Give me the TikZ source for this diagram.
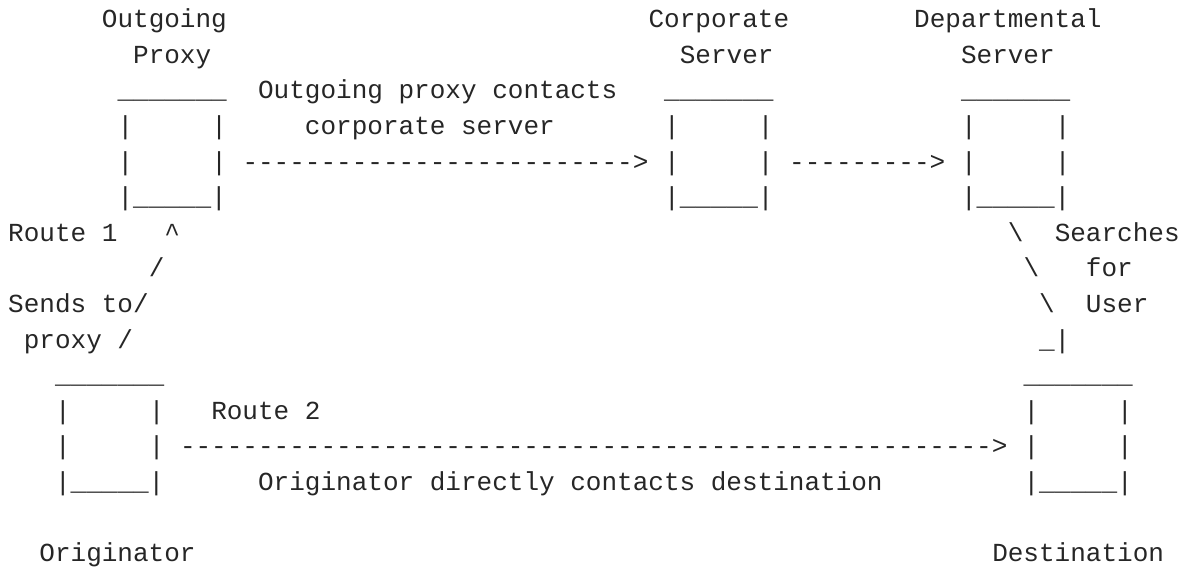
\documentclass[tikz,border=0pt]{standalone}
\usepackage{fontspec}
\setmonofont{Liberation Mono}
\ExplSyntaxOn
\newcommand\dashrun[1]{\prg_replicate:nn{#1}{-}}
\ExplSyntaxOff
\tikzset{
  txt/.style={anchor=base west, inner sep=0pt, text=black!85,
    font=\ttfamily\fontsize{13.01}{17.8}\selectfont},
}
\begin{document}
\begin{tikzpicture}[x=7.81pt, y=-17.8pt]
  \useasboundingbox (-3.9pt,-3.95pt) rectangle (587.1pt,-287.45pt);
  % caixas feitas com caracteres (coluna, linha)
  \foreach \name/\c/\r in {proxy/7/3, corp/42/3, dept/61/3, orig/3/11, dest/65/11} {
    \node at (\c,\r) (\name-top) [txt] {\_\_\_\_\_\_\_};
    \node at (\c,\r+1) (\name-l1) [txt] {|};
    \node at (\c+6,\r+1) (\name-r1) [txt] {|};
    \node at (\c,\r+2) (\name-l2) [txt] {|};
    \node at (\c+6,\r+2) (\name-r2) [txt] {|};
    \node at (\c,\r+3) (\name-bot) [txt] {|\_\_\_\_\_|};
  }
  % nomes das caixas
  \node at (6,1) (proxyname) [txt] {Outgoing};
  \node at (8,2) (proxyname2) [txt] {Proxy};
  \node at (41,1) (corpname) [txt] {Corporate};
  \node at (43,2) (corpname2) [txt] {Server};
  \node at (58,1) (deptname) [txt] {Departmental};
  \node at (61,2) (deptname2) [txt] {Server};
  \node at (2,16) (origname) [txt] {Originator};
  \node at (63,16) (destname) [txt] {Destination};
  % rota 1
  \node at (16,3) (r1label) [txt] {Outgoing proxy contacts};
  \node at (19,4) (r1label2) [txt] {corporate server};
  \node at (15,5) (proxycorp) [txt] {\dashrun{25}>};
  \node at (50,5) (corpdept) [txt] {\dashrun{9}>};
  \node at (0,7) (route1) [txt] {Route 1};
  \node at (10,7) (up1) [txt] {\textasciicircum};
  \node at (9,8) (up2) [txt] {/};
  \node at (0,9) (sends) [txt] {Sends to/};
  \node at (1,10) (sends2) [txt] {proxy /};
  \node at (64,7) (down1) [txt] {\textbackslash};
  \node at (65,8) (down2) [txt] {\textbackslash};
  \node at (66,9) (down3) [txt] {\textbackslash};
  \node at (66,10) (down4) [txt] {\_|};
  \node at (67,7) (search) [txt] {Searches};
  \node at (69,8) (search2) [txt] {for};
  \node at (69,9) (search3) [txt] {User};
  % rota 2
  \node at (13,12) (route2) [txt] {Route 2};
  \node at (11,13) (origdest) [txt] {\dashrun{52}>};
  \node at (16,14) (r2label) [txt] {Originator directly contacts destination};
\end{tikzpicture}
\end{document}
